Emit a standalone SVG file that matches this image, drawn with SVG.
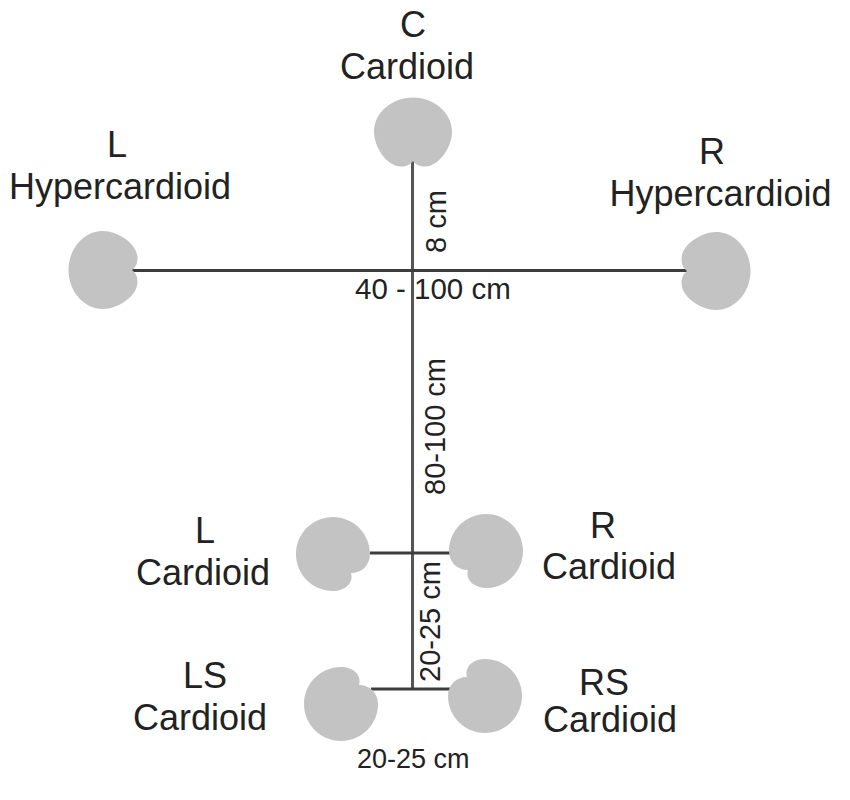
<svg xmlns="http://www.w3.org/2000/svg" width="850" height="800" viewBox="0 0 850 800">
<style>
.mic{fill:#c3c3c3}
.big{font:36px "Liberation Sans",Arial,sans-serif;fill:#222;text-anchor:middle}
.small{font:29.500px "Liberation Sans",Arial,sans-serif;fill:#222}
.vert{font-size:29px}
.conn{stroke:#3c3c3c;stroke-width:3;fill:none}
</style>
<defs>
<path id="hyper" d="M0,0 C-3,4 -7,5.500 -12,5.500 C-26,5.500 -39,-14 -39,-29 C-39,-48 -21.500,-63.500 0,-63.500 C21.500,-63.500 39,-48 39,-29 C39,-14 26,5.500 12,5.500 C7,5.500 3,4 0,0Z"/>
<path id="card" d="M0,0 C11,0 19,-8 19,-19 C19,-39.400 2.400,-56 -18,-56 C-38.400,-56 -55,-39.400 -55,-19 C-55,1.400 -38.400,18 -18,18 C-6,18 3,10 0,0Z"/>
</defs>
<g id="connectors">
<line class="conn" x1="412.500" y1="161" x2="412.500" y2="690" style="stroke:#555"/>
<line class="conn" x1="132" y1="270.500" x2="687" y2="270.500"/>
<line class="conn" x1="370" y1="553" x2="451" y2="553"/>
<line class="conn" x1="371" y1="689" x2="451" y2="689"/>
</g>
<g id="c-cardioid"><use class="mic" href="#hyper" transform="translate(413,161)"/><text class="big" x="413" y="36.500">C</text><text class="big" x="407" y="78.500">Cardioid</text></g>
<g id="l-hypercardioid"><use class="mic" href="#hyper" transform="translate(132,270) rotate(-90)"/><text class="big" x="117" y="156.500">L</text><text class="big" x="120" y="198.500">Hypercardioid</text></g>
<g id="r-hypercardioid"><use class="mic" href="#hyper" transform="translate(687,271) rotate(90)"/><text class="big" x="712" y="163.500">R</text><text class="big" x="720.500" y="205.500">Hypercardioid</text></g>
<g id="l-cardioid"><use class="mic" href="#card" transform="translate(351,573)"/><text class="big" x="205" y="542.500">L</text><text class="big" x="203" y="584.500">Cardioid</text></g>
<g id="r-cardioid"><use class="mic" href="#card" transform="translate(468,570) scale(-1,1)"/><text class="big" x="603" y="537.500">R</text><text class="big" x="609" y="578.500">Cardioid</text></g>
<g id="ls-cardioid"><use class="mic" href="#card" transform="translate(359,685) scale(1,-1)"/><text class="big" x="205" y="687.500">LS</text><text class="big" x="200" y="729.500">Cardioid</text></g>
<g id="rs-cardioid"><use class="mic" href="#card" transform="translate(467,677) scale(-1,-1)"/><text class="big" x="604" y="694.500">RS</text><text class="big" x="610" y="731.500">Cardioid</text></g>
<g id="labels">
<text class="small" x="355" y="299">40 - 100 cm</text>
<text class="small vert" transform="translate(446,253) rotate(-90)">8 cm</text>
<text class="small vert" transform="translate(445,495) rotate(-90)">80-100 cm</text>
<text class="small vert" transform="translate(440,682) rotate(-90)">20-25 cm</text>
<text class="small" x="357" y="768" style="font-size:27px">20-25 cm</text>
</g>
</svg>
